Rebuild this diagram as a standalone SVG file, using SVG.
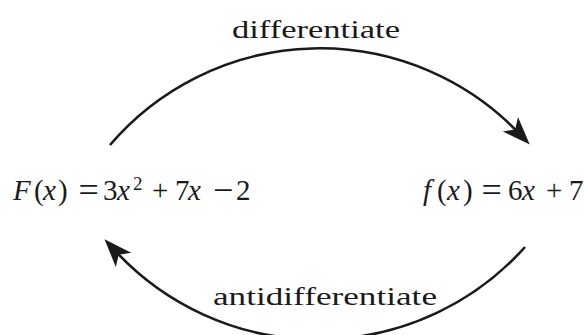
<svg xmlns="http://www.w3.org/2000/svg" width="585" height="335" viewBox="0 0 585 335">
<defs>
<marker id="ah" markerUnits="userSpaceOnUse" viewBox="-15 -12 32 24" markerWidth="32" markerHeight="24" refX="0" refY="0" orient="auto" overflow="visible">
<path d="M15,0 L-13,-10.5 L-6,0 L-13,10.5 Z" fill="#1a1a1a"/>
</marker>
</defs>
<rect width="585" height="335" fill="#fff"/>
<g id="connectors" fill="none" stroke="#1a1a1a" stroke-width="2.6">
<path d="M110,145 A276,276 0 0 1 519.4,133.7" marker-end="url(#ah)"/>
<path d="M525,247 A277,277 0 0 1 114.7,250.3" marker-end="url(#ah)"/>
</g>
<g id="label-differentiate">
<text font-family="Liberation Serif" font-size="26" fill="#1a1a1a" x="316" y="38" text-anchor="middle" textLength="168" lengthAdjust="spacingAndGlyphs">differentiate</text>
</g>
<g id="label-antidifferentiate">
<text font-family="Liberation Serif" font-size="26" fill="#1a1a1a" x="325" y="305" text-anchor="middle" textLength="224" lengthAdjust="spacingAndGlyphs">antidifferentiate</text>
</g>
<g id="node-F">
<text font-family="Liberation Serif" font-size="29" fill="#1a1a1a" y="200"><tspan x="13" font-style="italic">F</tspan><tspan x="34">(</tspan><tspan x="43" font-style="italic">x</tspan><tspan x="58">)</tspan><tspan x="78.4" y="201.7" font-size="36">=</tspan><tspan x="103" y="200">3</tspan><tspan x="117" font-style="italic">x</tspan><tspan x="133" y="190" font-size="19">2</tspan><tspan x="152" y="200">+</tspan><tspan x="175">7</tspan><tspan x="188" font-style="italic">x</tspan><tspan x="213" y="201.7" font-size="36">−</tspan><tspan x="236" y="200">2</tspan></text>
</g>
<g id="node-f">
<text font-family="Liberation Serif" font-size="29" fill="#1a1a1a" y="200"><tspan x="423" font-style="italic">f</tspan><tspan x="437">(</tspan><tspan x="447" font-style="italic">x</tspan><tspan x="463">)</tspan><tspan x="481.4" y="201.7" font-size="36">=</tspan><tspan x="508" y="200">6</tspan><tspan x="522" font-style="italic">x</tspan><tspan x="546">+</tspan><tspan x="569">7</tspan></text>
</g>
</svg>
